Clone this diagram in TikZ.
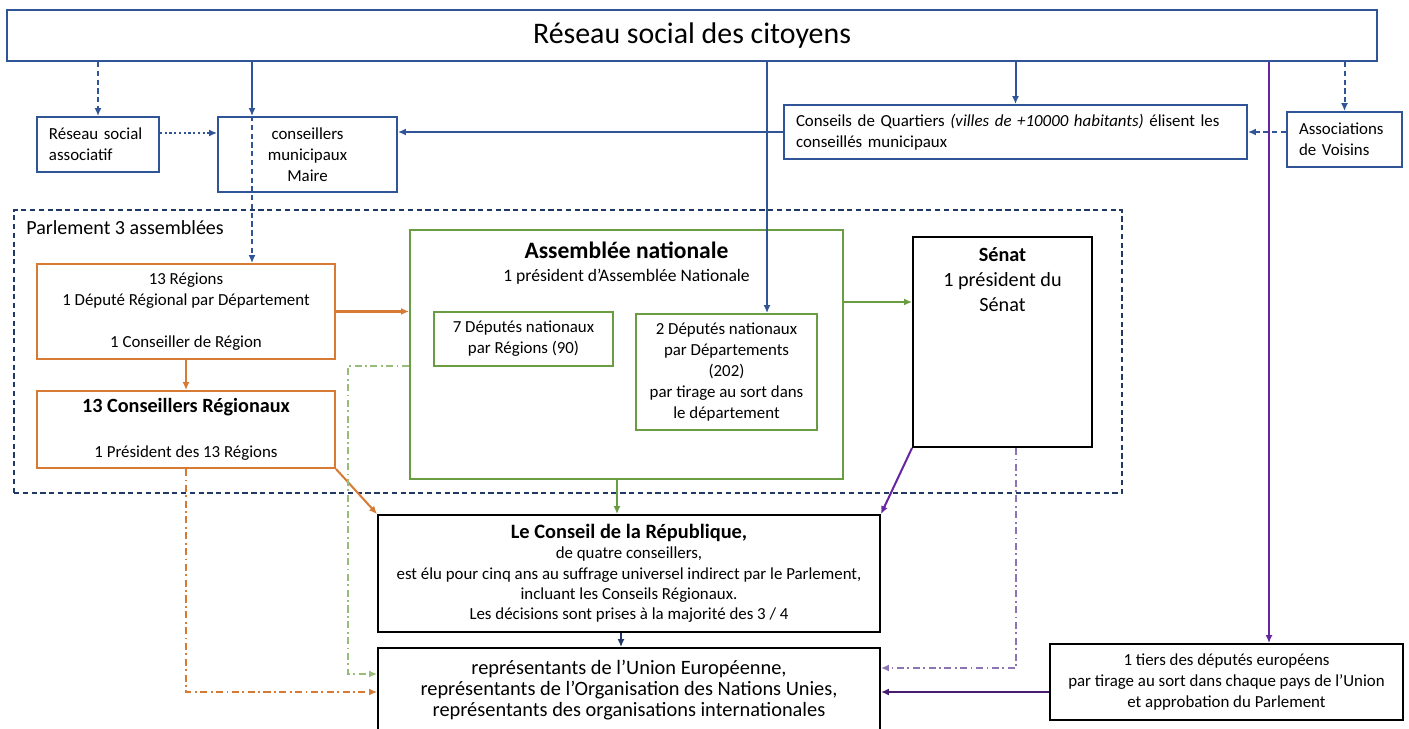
\documentclass[tikz,border=0pt]{standalone}
\usepackage{fontspec}
\setmainfont{Carlito}
\usetikzlibrary{arrows.meta}

\definecolor{bleu}{RGB}{47,85,151}
\definecolor{bleunuit}{RGB}{32,56,100}
\definecolor{orangeR}{RGB}{214,122,52}
\definecolor{vertAN}{RGB}{106,156,66}
\definecolor{vertclair}{RGB}{150,190,120}
\definecolor{pourpre}{RGB}{102,38,160}
\definecolor{lavande}{RGB}{140,115,180}

\tikzset{
  boite/.style={draw, line width=1.1pt, rectangle, inner sep=0pt, align=center},
  petit/.style={font=\fontsize{9.6}{11.9}\selectfont},
  moyen/.style={font=\fontsize{11.5}{14.2}\selectfont},
  fleche/.style={-{Latex[length=4.5pt,width=4pt]}, line width=1.15pt},
  tirets/.style={dash pattern=on 3pt off 2pt},
  pointilles/.style={dash pattern=on 1.2pt off 1.5pt},
  mixte/.style={dash pattern=on 4pt off 2pt on 1pt off 2pt},
}

\begin{document}
\begin{tikzpicture}[x=0.2mm,y=-0.2mm]
\useasboundingbox (0,0) rectangle (1409,729);
\clip (0,0) rectangle (1409,729);

% niveau local
\begin{scope}[every node/.style={boite,draw=bleu,petit}]
  \node[minimum width=274mm,minimum height=10.2mm,font=\fontsize{17}{20}\selectfont] (citoyens) at (692,35.5) {Réseau social des citoyens};
  \node[minimum width=24.4mm,minimum height=11mm,text width=19.6mm,align=left] (assoc) at (98,144.5) {Réseau social\\associatif};
  \node[minimum width=35.8mm,minimum height=15mm] (muni) at (307.5,154.5) {conseillers\\municipaux\\Maire};
  \node[minimum width=92.6mm,minimum height=10.8mm,text width=87.8mm,align=left] (quart) at (1015.5,132) {Conseils de Quartiers \textit{(villes de +10000 habitants)} élisent les\\conseillés municipaux};
  \node[minimum width=23mm,minimum height=11mm,text width=18.2mm,align=left] (voisins) at (1344.5,139.5) {Associations\\de Voisins};
\end{scope}

% parlement
\node[draw=bleunuit,line width=1pt,tirets,minimum width=221.6mm,minimum height=56.6mm,inner sep=0pt] (parlement) at (568,351.5) {};
\node[anchor=west,inner sep=0pt,font=\fontsize{11.4}{14}\selectfont] (parltxt) at (26,228) {Parlement 3 assemblées};

\begin{scope}[every node/.style={boite,draw=orangeR,petit}]
  \node[minimum width=59.6mm,minimum height=19mm] (reg) at (186,311.5) {13 Régions\\1 Député Régional par Département\\[11.9pt]1 Conseiller de Région};
  \node[minimum width=59.6mm,minimum height=15.4mm] (creg) at (186,429.5) {{\fontsize{11.5}{14}\selectfont\bfseries 13 Conseillers Régionaux}\\[13.4pt]1 Président des 13 Régions};
\end{scope}

\begin{scope}[every node/.style={boite,draw=vertAN,petit}]
  \node[minimum width=86.6mm,minimum height=49.8mm] (an) at (626.5,354.5) {};
  \node[minimum width=35.8mm,minimum height=10.8mm] (dnr) at (523.5,339) {7 Députés nationaux\\par Régions (90)};
  \node[minimum width=36.2mm,minimum height=23.2mm] (dnd) at (726.5,372) {2 Députés nationaux\\par Départements\\(202)\\par tirage au sort dans\\le département};
\end{scope}
\node[align=center,inner sep=0pt,font=\fontsize{10}{13}\selectfont] (antitre) at (626.5,263) {{\fontsize{13.4}{16}\selectfont\bfseries Assemblée nationale}\\1 président d’Assemblée Nationale};

\begin{scope}[every node/.style={boite,draw=black,petit}]
  \node[minimum width=35.8mm,minimum height=42mm] (senat) at (1002.5,342) {};
  \node[minimum width=100.4mm,minimum height=23.4mm,font=\fontsize{9.6}{11.6}\selectfont] (crep) at (629,573.5) {{\fontsize{11.6}{14}\selectfont\bfseries Le Conseil de la République,}\\de quatre conseillers,\\est élu pour cinq ans au suffrage universel indirect par le Parlement,\\incluant les Conseils Régionaux.\\Les décisions sont prises à la majorité des 3 / 4};
  \node[minimum width=100.4mm,minimum height=16.8mm,font=\fontsize{11.6}{12}\selectfont] (repr) at (629,690) {représentants de l’Union Européenne,\\représentants de l’Organisation des Nations Unies,\\représentants des organisations internationales};
  \node[minimum width=70.6mm,minimum height=15.2mm] (tiers) at (1226.5,682) {1 tiers des députés européens\\par tirage au sort dans chaque pays de l’Union\\et approbation du Parlement};
\end{scope}
\node[align=center,inner sep=0pt,moyen] (senattxt) at (1002.5,280) {\textbf{Sénat}\\1 président du\\Sénat};

% reperes des connecteurs
\coordinate (xmuni) at (252,0);
\coordinate (xan) at (767,0);
\coordinate (xcrep) at (617,0);
\coordinate (xrepr) at (621,0);
\coordinate (xtiers) at (1269,0);
\coordinate (xsenat) at (1016,0);
\coordinate (ymuni) at (0,133);
\coordinate (ysenat) at (0,302);
\coordinate (vert1) at (348,366);
\coordinate (vert2) at (348,674);
\coordinate (ylavande) at (0,668);
\coordinate (ybas) at (0,692);

\begin{scope}[every edge/.style={draw=bleu,fleche}]
\path (citoyens.south -| assoc.north) edge [tirets] (assoc.north);
\path (citoyens.south -| xmuni) edge (muni.north -| xmuni);
\path (muni.north -| xmuni) edge [tirets] (reg.north -| xmuni);
\path (assoc.east |- ymuni) edge [pointilles] (muni.west |- ymuni);
\path (quart.west) edge (muni.east |- quart.west);
\path (citoyens.south -| quart.north) edge (quart.north);
\path (citoyens.south -| voisins.north) edge [tirets] (voisins.north);
\path (voisins.west |- quart.east) edge [tirets] (quart.east);
\path (citoyens.south -| xan) edge (dnd.north -| xan);
\end{scope}

\begin{scope}[every edge/.style={draw=orangeR,fleche}]
\path (reg.east) edge (an.west |- reg.east);
\path (reg.south) edge (creg.north);
\path (creg.south east) edge (crep.north west);
\end{scope}

\begin{scope}[every edge/.style={draw=vertAN,fleche}]
\path (an.east |- ysenat) edge (senat.west |- ysenat);
\path (an.south -| xcrep) edge (crep.north -| xcrep);
\end{scope}

\begin{scope}[every edge/.style={draw=pourpre,fleche}]
\path (senat.south west) edge (crep.north east);
\path (citoyens.south -| xtiers) edge (tiers.north -| xtiers);
\path (tiers.west |- ybas) edge [draw=pourpre!70!black] (repr.east |- ybas);
\end{scope}
\path (crep.south -| xrepr) edge [draw=bleunuit,fleche] (repr.north -| xrepr);

% liaisons en pointilles mixtes
\draw[fleche,mixte,draw=vertclair] (an.west |- vert1) -- (vert1) -- (vert2) -- (repr.west |- vert2);
\draw[fleche,mixte,draw=orangeR] (creg.south) -- (creg.south |- ybas) -- (repr.west |- ybas);
\draw[fleche,mixte,draw=lavande] (senat.south -| xsenat) -- (xsenat |- ylavande) -- (repr.east |- ylavande);
\end{tikzpicture}
\end{document}
